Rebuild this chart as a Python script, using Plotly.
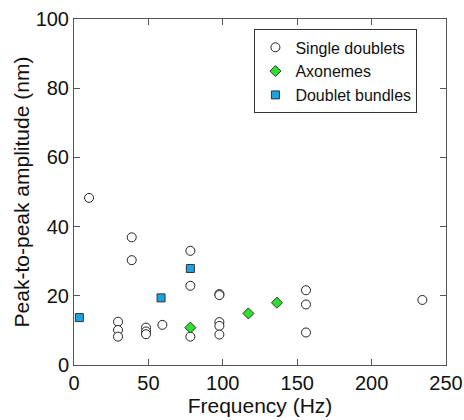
import plotly.graph_objects as go

single_f = [10.1, 38.8, 38.8, 78.2, 78.2, 78.2, 97.7, 97.7, 97.7, 97.7, 97.7,
            29.6, 29.6, 29.6, 48.4, 48.4, 48.4, 59.4, 155.9, 155.9, 155.9, 234.1]
single_a = [48.3, 36.9, 30.3, 33.0, 22.9, 8.2, 20.5, 20.2, 12.4, 11.3, 8.8,
            12.5, 10.1, 8.2, 10.8, 9.7, 8.9, 11.6, 21.6, 17.5, 9.4, 18.8]

axo_f = [78.2, 117.2, 136.4]
axo_a = [10.8, 14.9, 18.0]

bund_f = [3.6, 58.5, 78.2]
bund_a = [13.7, 19.4, 27.9]

FONT = "Arial, Liberation Sans, sans-serif"

fig = go.Figure()
fig.add_trace(go.Scatter(x=single_f, y=single_a, mode="markers", name="Single doublets",
                         marker=dict(symbol="circle", size=9, color="white",
                                     line=dict(color="#222222", width=1))))
fig.add_trace(go.Scatter(x=axo_f, y=axo_a, mode="markers", name="Axonemes",
                         marker=dict(symbol="diamond", size=8.5, color="#2ee02e",
                                     line=dict(color="#333333", width=1))))
fig.add_trace(go.Scatter(x=bund_f, y=bund_a, mode="markers", name="Doublet bundles",
                         marker=dict(symbol="square", size=8, color="#1ba3e3",
                                     line=dict(color="#333333", width=1))))

axis_common = dict(showgrid=False, zeroline=False, showline=True, linecolor="#555555",
                   linewidth=1, mirror="ticks", ticks="inside", ticklen=6, automargin=False,
                   tickcolor="#555555", tickfont=dict(family=FONT, size=20, color="#111111"))

fig.update_layout(
    width=464, height=420,
    margin=dict(l=74, r=18, t=19, b=55),
    plot_bgcolor="white", paper_bgcolor="white",
    font=dict(family=FONT, color="#111111"),
    xaxis=dict(range=[0, 250], tickvals=[0, 50, 100, 150, 200, 250],
               title=dict(text="Frequency (Hz)", font=dict(family=FONT, size=21), standoff=3),
               **axis_common),
    yaxis=dict(range=[0, 100], tickvals=[0, 20, 40, 60, 80, 100],
               title=dict(text="Peak-to-peak amplitude (nm)", font=dict(family=FONT, size=21), standoff=0),
               **axis_common),
    legend=dict(x=0.485, y=0.97, xanchor="left", yanchor="top",
                bordercolor="#333333", borderwidth=1, bgcolor="white",
                font=dict(family=FONT, size=16, color="#111111"),
                tracegroupgap=0, itemsizing="trace"),
    showlegend=True,
)

fig.write_html("out.html")
